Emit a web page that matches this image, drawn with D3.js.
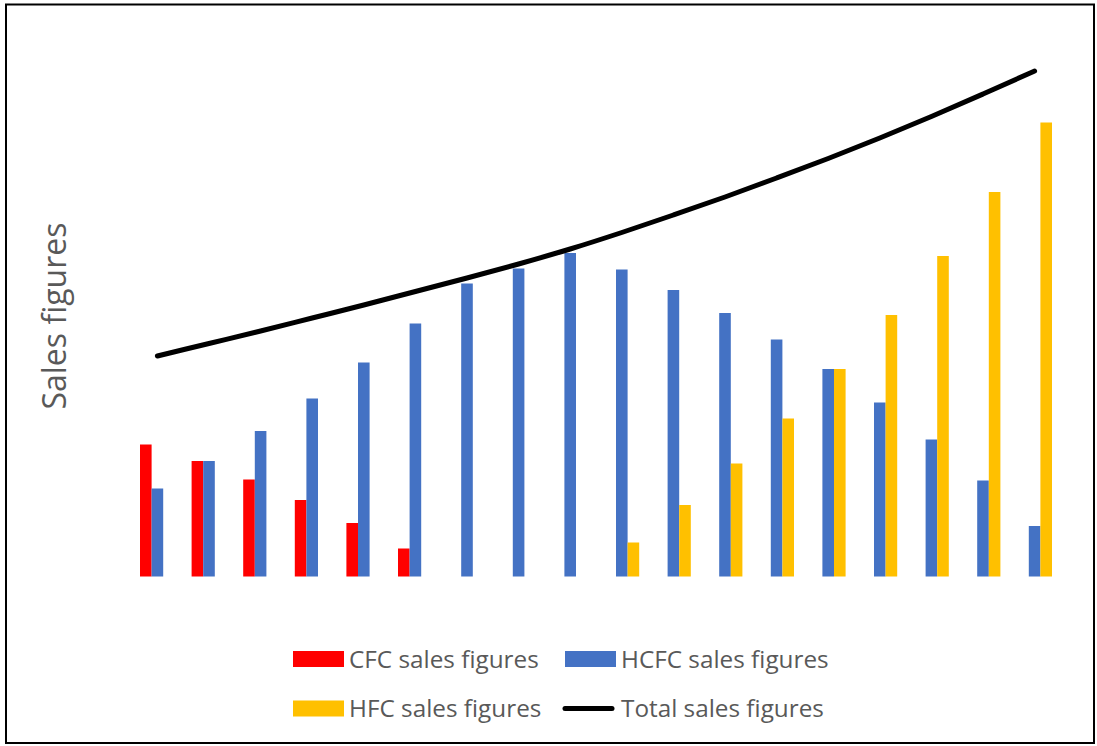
<!DOCTYPE html>
<html>
<head>
<meta charset="utf-8">
<script src="https://cdn.jsdelivr.net/npm/d3@7"></script>
<style>
  html, body { margin: 0; padding: 0; background: #fff; }
  svg { display: block; }
</style>
</head>
<body>
<svg id="chart" width="1097" height="746"></svg>
<script>
// ---- data ----
const categories = ["P1","P2","P3","P4","P5","P6","P7","P8","P9","P10","P11","P12","P13","P14","P15","P16","P17","P18"];
const seriesNames = ["CFC sales figures", "HCFC sales figures", "HFC sales figures"];
const cfcValues  = [26.4, 23.1, 19.4, 15.3, 10.7, 5.6, 0, 0, 0, 0, 0, 0, 0, 0, 0, 0, 0, 0];
const hcfcValues = [17.6, 23.1, 29.1, 35.6, 42.8, 50.6, 58.6, 61.6, 64.7, 61.4, 57.3, 52.7, 47.4, 41.5, 34.8, 27.4, 19.2, 10.1];
const hfcValues  = [0, 0, 0, 0, 0, 0, 0, 0, 0, 6.8, 14.3, 22.6, 31.6, 41.5, 52.3, 64.1, 76.9, 90.8];
const totalValues = [44.1, 46.6, 49.1, 51.7, 54.3, 57.0, 59.7, 62.5, 65.5, 68.8, 72.3, 75.9, 79.7, 83.6, 87.7, 92.0, 96.5, 101.1];
const totalName = "Total sales figures";
const yTitle = "Sales figures";
const colors = ["#FF0000", "#4472C4", "#FFC000"];

// ---- layout ----
const svg = d3.select("#chart");
const font = "'Open Sans', Lato, sans-serif";
const textColor = "#595959";

// outer frame
svg.append("rect")
  .attr("x", 6).attr("y", 4.5).attr("width", 1088).attr("height", 738.5)
  .attr("fill", "#fff").attr("stroke", "#000").attr("stroke-width", 2);

const x0 = d3.scaleBand().domain(categories)
  .range([131.6, 1060.4]).paddingInner(0.3256).paddingOuter(0.1628);
const x1 = d3.scaleBand().domain(seriesNames).range([0, x0.bandwidth()]);
const y = d3.scaleLinear().domain([0, 100]).range([576.5, 76.5]);

const seriesValues = [cfcValues, hcfcValues, hfcValues];
const rows = categories.map((c, i) => ({
  cat: c,
  vals: seriesNames.map((s, k) => ({ name: s, value: seriesValues[k][i], color: colors[k] }))
}));

const groups = svg.append("g").selectAll("g").data(rows).join("g")
  .attr("transform", d => `translate(${x0(d.cat)},0)`);
groups.selectAll("rect").data(d => d.vals.filter(v => v.value > 0)).join("rect")
  .attr("x", d => x1(d.name))
  .attr("width", x1.bandwidth())
  .attr("y", d => y(d.value))
  .attr("height", d => y(0) - y(d.value))
  .attr("fill", d => d.color);

// total line
const line = d3.line()
  .x((d, i) => x0(categories[i]) + x0.bandwidth() / 2)
  .y(d => y(d))
  .curve(d3.curveMonotoneX);
svg.append("path").datum(totalValues)
  .attr("d", line)
  .attr("fill", "none").attr("stroke", "#000").attr("stroke-width", 5)
  .attr("stroke-linecap", "round").attr("stroke-linejoin", "round");

// y title
svg.append("text")
  .attr("transform", "translate(66,316) rotate(-90)")
  .attr("text-anchor", "middle")
  .attr("font-family", font).attr("font-size", 32)
  .attr("fill", textColor)
  .text(yTitle);

// legend
const legendItems = [
  { name: seriesNames[0], color: colors[0], type: "rect", x: 293, y: 659 },
  { name: seriesNames[1], color: colors[1], type: "rect", x: 565, y: 659 },
  { name: seriesNames[2], color: colors[2], type: "rect", x: 293, y: 708.5 },
  { name: totalName, color: "#000", type: "line", x: 565, y: 708.5 }
];
const lg = svg.append("g").selectAll("g").data(legendItems).join("g")
  .attr("transform", d => `translate(${d.x},${d.y})`);
lg.filter(d => d.type === "rect").append("rect")
  .attr("x", 0).attr("y", -8).attr("width", 51).attr("height", 16)
  .attr("fill", d => d.color);
lg.filter(d => d.type === "line").append("line")
  .attr("x1", 0).attr("x2", 47).attr("y1", 0).attr("y2", 0)
  .attr("stroke", "#000").attr("stroke-width", 5).attr("stroke-linecap", "round");
lg.append("text")
  .attr("x", 56).attr("y", 0).attr("dy", "0.36em")
  .attr("font-family", font).attr("font-size", 24.3)
  .attr("fill", textColor)
  .text(d => d.name);
</script>
</body>
</html>
